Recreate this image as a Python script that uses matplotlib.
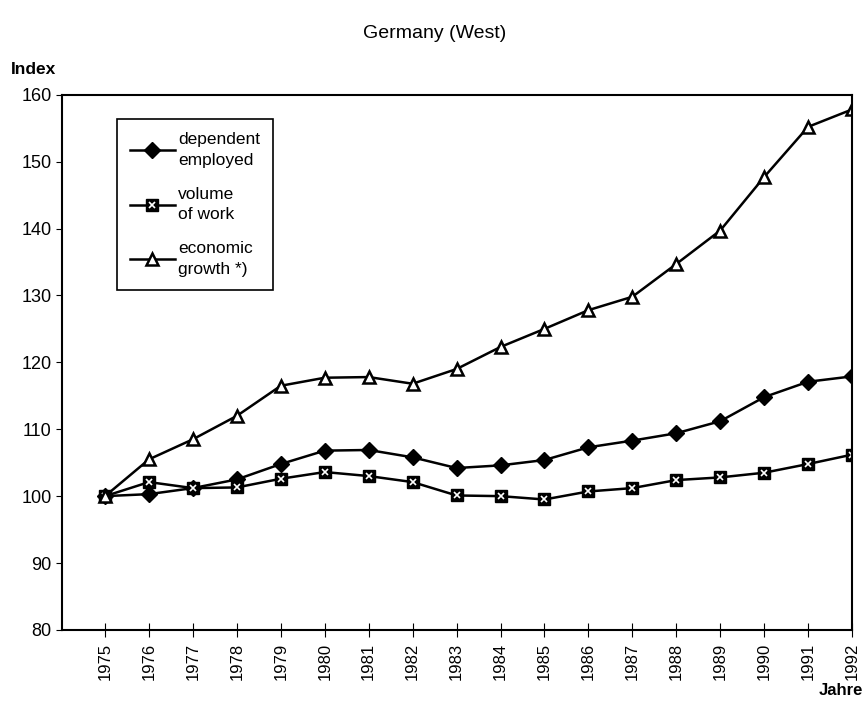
import matplotlib.pyplot as plt
import numpy as np

years = np.arange(1975, 1993)
employed = [100, 100.3, 101.2, 102.5, 104.8, 106.8, 106.9, 105.8, 104.2, 104.6,
            105.4, 107.3, 108.3, 109.4, 111.2, 114.8, 117.1, 117.9]
work = [100, 102.1, 101.2, 101.3, 102.6, 103.6, 103.0, 102.1, 100.1, 100.0,
        99.5, 100.7, 101.2, 102.4, 102.8, 103.5, 104.8, 106.2]
growth = [100, 105.5, 108.5, 112.0, 116.5, 117.7, 117.8, 116.8, 119.0, 122.3,
          125.0, 127.8, 129.8, 134.7, 139.7, 147.7, 155.2, 157.8]
labels = ["dependent\nemployed", "volume\nof work", "economic\ngrowth *)"]

plt.rcParams['font.family'] = 'Liberation Sans'
fig = plt.figure(figsize=(8.65, 7.07), dpi=100)
ax = fig.add_axes([0.0717, 0.109, 0.9133, 0.757])

l1, = ax.plot(years, employed, color="black", lw=1.8, marker="D", ms=8,
              mfc="black", mec="black")
l2, = ax.plot(years, work, color="black", lw=1.8, marker="s", ms=9,
              mfc="black", mec="black")
lx, = ax.plot(years, work, ls="none", marker="x", ms=5, mew=1.2, color="white")
l3, = ax.plot(years, growth, color="black", lw=1.8, marker="^", ms=9,
              mfc="white", mec="black", mew=1.8)

ax.set_xlim(1974.02, 1992)
ax.set_ylim(80, 160)
ax.set_yticks(np.arange(80, 161, 10))
ax.set_xticks(years)
ax.set_xticklabels([str(y) for y in years], rotation=90, fontsize=12)
ax.tick_params(axis="y", labelsize=13, direction="out", length=4)
ax.tick_params(axis="x", direction="inout", length=10, pad=4)
for s in ax.spines.values():
    s.set_linewidth(1.5)

leg = ax.legend([l1, (l2, lx), l3], labels, loc="upper left",
                bbox_to_anchor=(0.058, 0.97), fontsize=12.5, handlelength=2.6,
                handletextpad=0.2, labelspacing=1.1, borderpad=0.75,
                fancybox=False, edgecolor="black", framealpha=1)
for t in leg.get_texts():
    t.set_linespacing(1.45)
leg.get_frame().set_linewidth(1.2)

fig.text(0.503, 0.952, "Germany (West)", ha="center", va="center", fontsize=14)
fig.text(0.012, 0.902, "Index", ha="left", va="center", fontsize=12.5, fontweight="bold")
fig.text(0.998, 0.024, "Jahre", ha="right", va="center", fontsize=12, fontweight="bold")

fig.savefig("out.png", dpi=100)
